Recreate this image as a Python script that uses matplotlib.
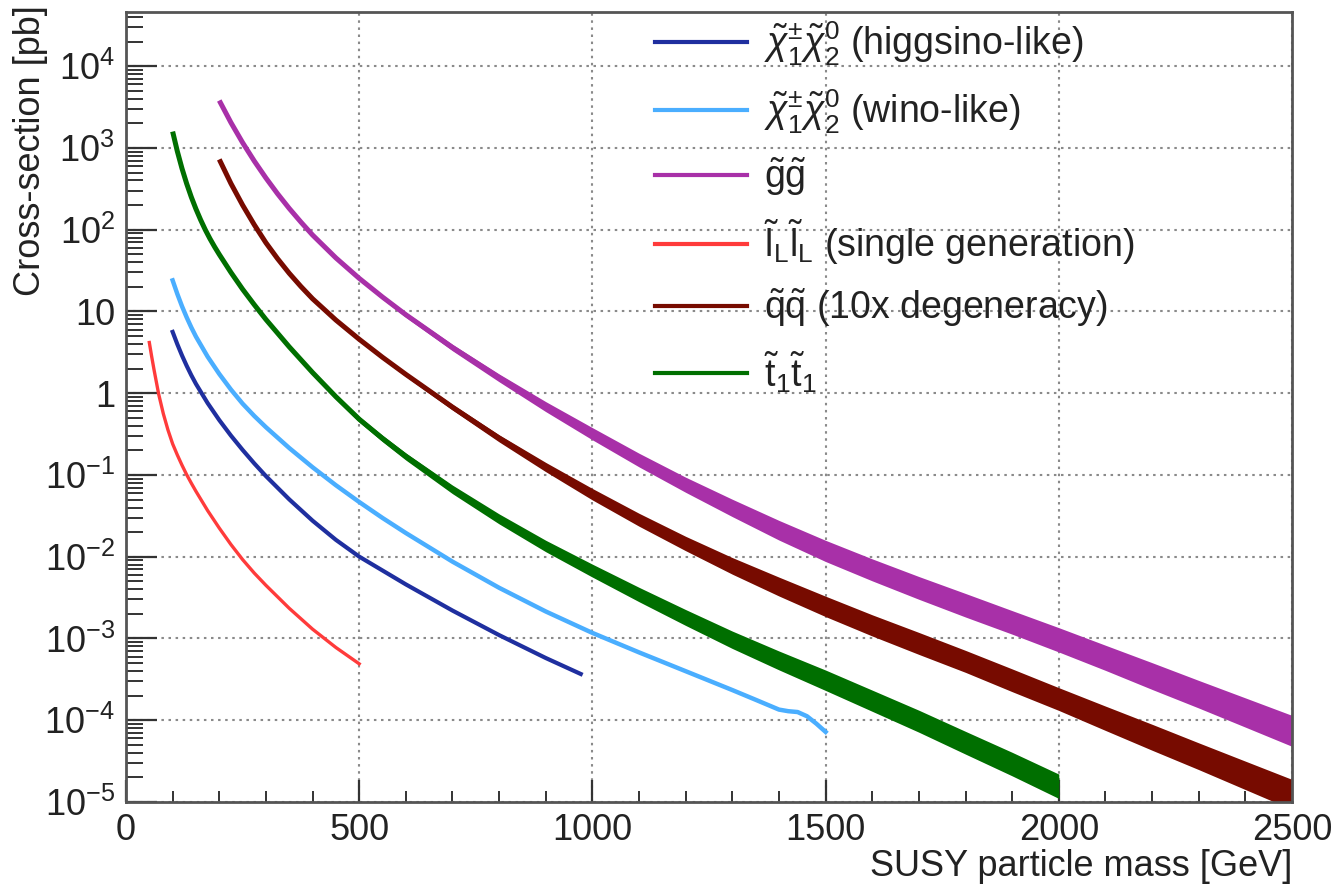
import numpy as np
import matplotlib
matplotlib.use("Agg")
import matplotlib.pyplot as plt
from matplotlib import font_manager
from matplotlib.lines import Line2D
from matplotlib.ticker import FixedLocator, MultipleLocator, LogLocator, FuncFormatter, NullFormatter

# ---------------- data ----------------
m_slep = [50, 55, 60, 65, 70, 80, 90, 100, 110, 120, 130, 140, 150, 175, 200, 225, 250,
          275, 300, 350, 400, 450, 500]
xs_slep = [4.17, 2.82, 1.95, 1.38, 0.977, 0.562, 0.355, 0.24, 0.176, 0.132, 0.101, 0.0794,
           0.0631, 0.0367, 0.0224, 0.0141, 0.00923, 0.00631, 0.00447, 0.00234, 0.0013,
           7.76e-4, 4.9e-4]

m_higgsino = [100, 110, 120, 130, 140, 150, 175, 200, 225, 250, 275, 300, 350, 400, 450,
              500, 600, 700, 800, 900, 975]
xs_higgsino = [5.62, 3.98, 2.90, 2.17, 1.66, 1.30, 0.757, 0.469, 0.303, 0.2025, 0.1385,
               0.0969, 0.0503, 0.0276, 0.01609, 0.01003, 0.00459, 0.002196, 0.0011,
               5.77e-4, 3.68e-4]

m_wino = [100, 110, 120, 130, 140, 150, 175, 200, 225, 250, 275, 300, 350, 400, 450, 500,
          550, 600, 700, 800, 900, 1000, 1100, 1200, 1300, 1350, 1400, 1420, 1440, 1460,
          1480, 1500]
xs_wino = [24.0, 16.4, 11.6, 8.49, 6.38, 4.92, 2.80, 1.72, 1.108, 0.745, 0.527, 0.384,
           0.2136, 0.1243, 0.0749, 0.0467, 0.0298, 0.0195, 0.00871, 0.00417, 0.00214,
           0.00117, 6.76e-4, 3.98e-4, 2.34e-4, 1.78e-4, 1.35e-4, 1.29e-4, 1.26e-4, 1.12e-4,
           9.1e-5, 7.2e-5]

m_stop = [100, 110, 120, 130, 140, 150, 160, 170, 180, 190, 200, 225, 250, 275, 300, 350,
          400, 450, 500, 550, 600, 700, 800, 900, 1000, 1100, 1200, 1300, 1400, 1500, 1600,
          1700, 1800, 1900, 2000]
xs_stop = [1585, 912, 562, 367, 251, 179, 132, 99.8, 77.6, 61.7, 49.8, 30.0, 18.7, 12.1,
           7.98, 3.69, 1.79, 0.906, 0.481, 0.280, 0.169, 0.0671, 0.0293, 0.0137, 0.00687,
           0.00352, 0.00185, 9.93e-4, 5.58e-4, 3.21e-4, 1.81e-4, 1.02e-4, 5.58e-5, 3.07e-5,
           1.65e-5]
unc_stop = [0.02, 0.02, 0.02, 0.02, 0.02, 0.02, 0.025, 0.025, 0.025, 0.03, 0.03, 0.035, 0.04,
            0.045, 0.05, 0.05, 0.06, 0.07, 0.08, 0.09, 0.10, 0.12, 0.14, 0.16, 0.18, 0.20,
            0.22, 0.24, 0.26, 0.28, 0.29, 0.30, 0.31, 0.32, 0.33]

m_heavy = [200, 225, 250, 275, 300, 325, 350, 375, 400, 450, 500, 550, 600, 700, 800, 900,
           1000, 1100, 1200, 1300, 1400, 1500, 1600, 1700, 1800, 1900, 2000, 2100, 2200,
           2300, 2400, 2500]
xs_gluino = [3802, 2042, 1161, 692, 429, 275, 182, 124, 86.1, 45.2, 25.4, 15.0, 9.12, 3.63,
             1.55, 0.692, 0.324, 0.155, 0.0776, 0.0407, 0.0219, 0.0123, 0.00724, 0.00437,
             0.00269, 0.00166, 0.00102, 6.17e-4, 3.72e-4, 2.24e-4, 1.35e-4, 8.13e-5]
unc_gluino = [0.02, 0.02, 0.02, 0.03, 0.03, 0.03, 0.03, 0.04, 0.04, 0.05, 0.05, 0.06, 0.07,
              0.09, 0.11, 0.14, 0.17, 0.19, 0.21, 0.24, 0.27, 0.29, 0.30, 0.31, 0.32, 0.32,
              0.33, 0.34, 0.36, 0.37, 0.39, 0.41]
xs_squark = [724, 367, 200, 115, 69.2, 44.2, 29.3, 20.2, 14.3, 7.85, 4.57, 2.75, 1.70, 0.676,
             0.282, 0.126, 0.0589, 0.0288, 0.0148, 0.00794, 0.00447, 0.00257, 0.00151,
             9.12e-4, 5.50e-4, 3.24e-4, 1.91e-4, 1.12e-4, 6.61e-5, 3.89e-5, 2.29e-5, 1.35e-5]
unc_squark = [0.02, 0.02, 0.02, 0.03, 0.03, 0.03, 0.03, 0.04, 0.04, 0.05, 0.05, 0.055, 0.06,
              0.08, 0.10, 0.13, 0.16, 0.18, 0.20, 0.23, 0.26, 0.28, 0.29, 0.30, 0.30, 0.31,
              0.31, 0.33, 0.35, 0.36, 0.38, 0.40]

labels = [r"$\tilde{\chi}_{1}^{\pm}\tilde{\chi}_{2}^{0}$ (higgsino-like)",
          r"$\tilde{\chi}_{1}^{\pm}\tilde{\chi}_{2}^{0}$ (wino-like)",
          r"$\tilde{\mathrm{g}}\tilde{\mathrm{g}}$",
          r"$\tilde{\mathrm{l}}_{\mathrm{L}}\tilde{\mathrm{l}}_{\mathrm{L}}$ (single generation)",
          r"$\tilde{\mathrm{q}}\tilde{\mathrm{q}}$ (10x degeneracy)",
          r"$\tilde{\mathrm{t}}_{1}\tilde{\mathrm{t}}_{1}$"]
colors = ["#1f2f9f", "#4aaeff", "#a830a8", "#ff3b3b", "#770b00", "#006f00"]

x_ticks = [0, 500, 1000, 1500, 2000, 2500]
y_ticks = [1e-5, 1e-4, 1e-3, 1e-2, 1e-1, 1, 10, 1e2, 1e3, 1e4]

# ---------------- fonts ----------------
avail = {f.name for f in font_manager.fontManager.ttflist}
fam = "Liberation Sans Narrow" if "Liberation Sans Narrow" in avail else "Liberation Sans"
plt.rcParams["font.family"] = [fam, "DejaVu Sans"]
plt.rcParams["mathtext.fontset"] = "custom"
plt.rcParams["mathtext.rm"] = fam
plt.rcParams["mathtext.it"] = fam + ":italic"
plt.rcParams["mathtext.bf"] = fam + ":bold"
plt.rcParams["mathtext.sf"] = fam

FS = 26
TXT = "#222222"

fig = plt.figure(figsize=(13.37, 8.84), dpi=100)
ax = fig.add_axes([126 / 1337, 1 - 802 / 884, (1292 - 126) / 1337, (802 - 12) / 884])
ax.set_yscale("log")
ax.set_xlim(0, 2500)
ax.set_ylim(1e-5, 4.6e4)


def band(m, xs, unc, color):
    m = np.asarray(m, float)
    xs = np.asarray(xs, float)
    u = np.asarray(unc, float)
    ax.fill_between(m, xs * (1 - u), xs * (1 + u), color=color, lw=0, zorder=2)
    ax.plot(m, xs, color=color, lw=3.6, zorder=2.5, solid_capstyle="butt",
            solid_joinstyle="round")


ax.plot(m_slep, xs_slep, color=colors[3], lw=2.4, zorder=3, solid_joinstyle="round")
ax.plot(m_higgsino, xs_higgsino, color=colors[0], lw=3.0, zorder=3, solid_joinstyle="round")
ax.plot(m_wino, xs_wino, color=colors[1], lw=3.2, zorder=3, solid_joinstyle="round")
band(m_stop, xs_stop, unc_stop, colors[5])
band(m_heavy, xs_squark, unc_squark, colors[4])
band(m_heavy, xs_gluino, unc_gluino, colors[2])

# ticks
ax.xaxis.set_major_locator(FixedLocator(x_ticks))
ax.xaxis.set_minor_locator(MultipleLocator(100))
ax.yaxis.set_major_locator(FixedLocator(y_ticks))
ax.yaxis.set_minor_locator(LogLocator(base=10, subs=np.arange(2, 10), numticks=30))
ax.yaxis.set_minor_formatter(NullFormatter())


def yfmt(v, pos):
    e = int(round(np.log10(v)))
    if e == 0:
        return "1"
    if e == 1:
        return "10"
    return r"$10^{%d}$" % e


ax.yaxis.set_major_formatter(FuncFormatter(yfmt))
ax.xaxis.set_major_formatter(FuncFormatter(lambda v, p: "%d" % v))

ax.tick_params(axis="both", which="both", direction="in", colors="#333333", labelcolor=TXT)
ax.tick_params(axis="y", which="major", length=22, width=1.6, pad=8, labelsize=FS)
ax.tick_params(axis="y", which="minor", length=12, width=1.4)
ax.tick_params(axis="x", which="major", length=16, width=1.6, pad=8, labelsize=FS)
ax.tick_params(axis="x", which="minor", length=8, width=1.4)

for s in ax.spines.values():
    s.set_color("#555555")
    s.set_linewidth(2)

ax.grid(True, which="major", axis="both", linestyle=(0, (1.2, 2.2)), color="#8a8a8a", lw=1.5)
ax.set_axisbelow(True)

ax.set_xlabel("SUSY particle mass [GeV]", fontsize=FS, loc="right", color=TXT)
ax.xaxis.set_label_coords(1.0, -(849 - 802) / 790)
ax.set_ylabel("Cross-section [pb]", fontsize=FS, loc="top", color=TXT)
ax.yaxis.set_label_coords(-(126 - 48) / 1166, 1.0 + 7 / 790)

# legend
handles = [Line2D([], [], color=c, lw=3) for c in colors]
leg = ax.legend(handles, labels, loc="upper left", bbox_to_anchor=(655 / 1337, 1 - 20 / 884),
                bbox_transform=fig.transFigure, frameon=False, fontsize=FS + 1,
                handlelength=2.45, handletextpad=0.45, labelspacing=0.52, borderpad=0,
                borderaxespad=0)
for t in leg.get_texts():
    t.set_color(TXT)

fig.savefig("out.png", dpi=100)
